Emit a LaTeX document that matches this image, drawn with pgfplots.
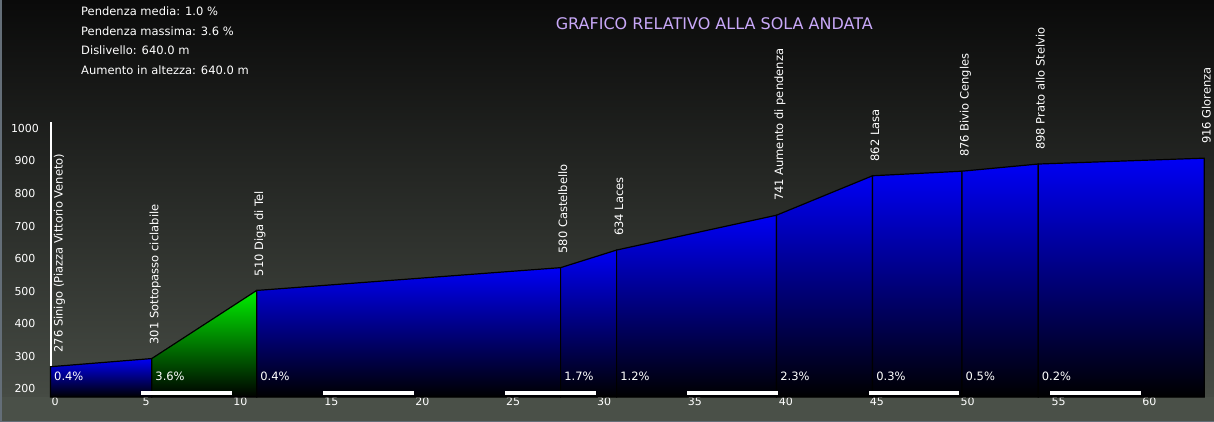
\documentclass[border=0pt]{standalone}
\usepackage{fontspec}
\setmainfont{DejaVu Sans}
\usepackage{pgfplots}
\pgfplotsset{compat=1.18}
\usetikzlibrary{calc}
\definecolor{bgtop}{RGB}{10,10,10}
\definecolor{bgbot}{RGB}{70,75,68}
\definecolor{band}{RGB}{74,80,72}
\definecolor{pblue}{RGB}{0,0,245}
\definecolor{pgreen}{RGB}{0,240,0}
\definecolor{titlec}{RGB}{200,168,248}
\definecolor{edge}{RGB}{100,110,120}
\newcommand{\lfont}{\fontsize{11.5}{13}\selectfont}
\newcommand{\tfont}{\fontsize{11}{13}\selectfont}
\newcommand{\plab}[4]{\node[rotate=90, anchor=base west, inner sep=0pt, text=white, font=\lfont] at ($(axis cs:#1,#2)+(#4,14pt)$) {#3};}
\newcommand{\pct}[2]{\node[anchor=base west, inner sep=0pt, text=white, font=\lfont] at ($(axis cs:#1,233)+(3.5pt,0pt)$) {#2};}
\begin{document}
\begin{tikzpicture}[x=1pt,y=1pt]
\path[use as bounding box] (0,0) rectangle (1214,-422);
\shade[top color=bgtop, bottom color=bgbot] (0,0) rectangle (1214,-397);
\fill[band] (0,-397) rectangle (1214,-422);
\draw[edge, line width=1.5pt] (0.75,0) -- (0.75,-421.25) -- (1214,-421.25);
\node[anchor=base west, inner sep=0pt, text=white, font=\lfont] at (81,-15.7) {Pendenza media: 1.0 \%};
\node[anchor=base west, inner sep=0pt, text=white, font=\lfont] at (81,-35.3) {Pendenza massima: 3.6 \%};
\node[anchor=base west, inner sep=0pt, text=white, font=\lfont] at (81,-55) {Dislivello: 640.0 m};
\node[anchor=base west, inner sep=0pt, text=white, font=\lfont] at (81,-75) {Aumento in altezza: 640.0 m};
\node[anchor=base, inner sep=0pt, text=titlec, font=\fontsize{16}{18}\selectfont] at (714.3,-30) {GRAFICO RELATIVO ALLA SOLA ANDATA};
\begin{axis}[at={(50.5pt,-397pt)}, anchor=south west, scale only axis,
  width=1153.7pt, height=275pt,
  xmin=0, xmax=63.46, ymin=183, ymax=1027, clip=false,
  axis line style={draw=none}, major tick length=0pt,
  xtick={0,5,...,60}, ytick={200,300,...,1000},
  /pgf/number format/assume math mode=true,
  /pgf/number format/1000 sep={},
  ticklabel style={font=\tfont, text=white},
  xticklabel style={anchor=north west, inner sep=0pt, xshift=1pt, yshift=-0.5pt},
  yticklabel style={anchor=center, inner sep=0pt, xshift=-25.5pt, yshift=2.5pt}]
\draw[white, line width=2pt] (axis cs:0,183) -- (axis cs:0,1027);
% profile segments
\addplot[draw=black, line width=1.2pt, top color=pblue, bottom color=black] coordinates {(0,183) (0,276) (5.57,301) (5.57,183)} -- cycle;
\addplot[draw=black, line width=1.2pt, top color=pgreen, bottom color=black] coordinates {(5.57,183) (5.57,301) (11.34,510) (11.34,183)} -- cycle;
\addplot[draw=black, line width=1.2pt, top color=pblue, bottom color=black] coordinates {(11.34,183) (11.34,510) (28.06,580) (28.06,183)} -- cycle;
\addplot[draw=black, line width=1.2pt, top color=pblue, bottom color=black] coordinates {(28.06,183) (28.06,580) (31.14,634) (31.14,183)} -- cycle;
\addplot[draw=black, line width=1.2pt, top color=pblue, bottom color=black] coordinates {(31.14,183) (31.14,634) (39.94,741) (39.94,183)} -- cycle;
\addplot[draw=black, line width=1.2pt, top color=pblue, bottom color=black] coordinates {(39.94,183) (39.94,741) (45.22,862) (45.22,183)} -- cycle;
\addplot[draw=black, line width=1.2pt, top color=pblue, bottom color=black] coordinates {(45.22,183) (45.22,862) (50.14,876) (50.14,183)} -- cycle;
\addplot[draw=black, line width=1.2pt, top color=pblue, bottom color=black] coordinates {(50.14,183) (50.14,876) (54.33,898) (54.33,183)} -- cycle;
\addplot[draw=black, line width=1.2pt, top color=pblue, bottom color=black] coordinates {(54.33,183) (54.33,898) (63.46,916) (63.46,183)} -- cycle;
% km bars
\fill[white] (axis cs:5,188) rectangle (axis cs:10,200);
\fill[white] (axis cs:15,188) rectangle (axis cs:20,200);
\fill[white] (axis cs:25,188) rectangle (axis cs:30,200);
\fill[white] (axis cs:35,188) rectangle (axis cs:40,200);
\fill[white] (axis cs:45,188) rectangle (axis cs:50,200);
\fill[white] (axis cs:55,188) rectangle (axis cs:60,200);
% gradient labels
\pct{0}{0.4\%}
\pct{5.57}{3.6\%}
\pct{11.34}{0.4\%}
\pct{28.06}{1.7\%}
\pct{31.14}{1.2\%}
\pct{39.94}{2.3\%}
\pct{45.22}{0.3\%}
\pct{50.14}{0.5\%}
\pct{54.33}{0.2\%}
% place labels
\plab{0}{276}{276 Sinigo (Piazza Vittorio Veneto)}{12pt}
\plab{5.57}{301}{301 Sottopasso ciclabile}{6.5pt}
\plab{11.34}{510}{510 Diga di Tel}{6.5pt}
\plab{28.06}{580}{580 Castelbello}{6.5pt}
\plab{31.14}{634}{634 Laces}{6.5pt}
\plab{39.94}{741}{741 Aumento di pendenza}{6.5pt}
\plab{45.22}{862}{862 Lasa}{6.5pt}
\plab{50.14}{876}{876 Bivio Cengles}{6.5pt}
\plab{54.33}{898}{898 Prato allo Stelvio}{6.5pt}
\plab{63.46}{916}{916 Glorenza}{6.5pt}
\end{axis}
\end{tikzpicture}
\end{document}
